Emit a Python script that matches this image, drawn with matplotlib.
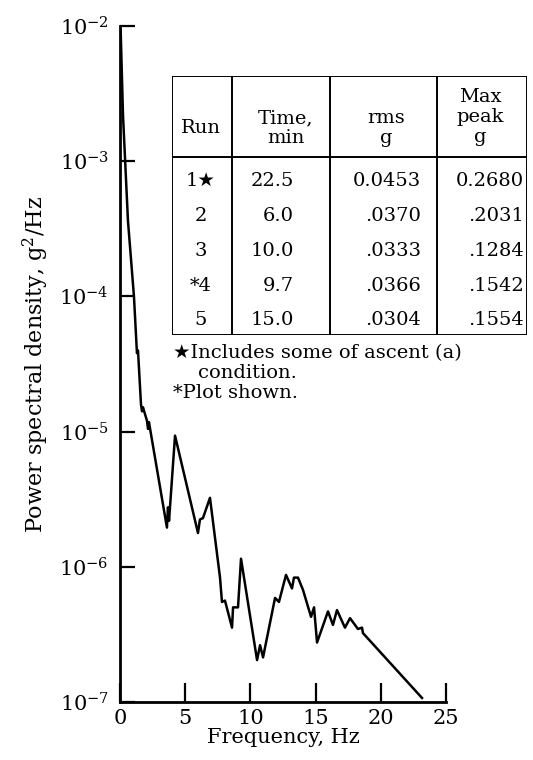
import matplotlib
matplotlib.use('Agg')
import matplotlib.pyplot as plt
import numpy as np

plt.rcParams['font.family'] = ['DejaVu Serif', 'DejaVu Sans']
plt.rcParams['mathtext.fontset'] = 'dejavuserif'

# spectrum of run 4 (Hz, g^2/Hz)
freq = [0.05, 0.23, 0.61, 1.07, 1.30, 1.38, 1.61, 1.69, 1.76, 2.07, 2.15, 2.22, 2.45,
        3.60, 3.68, 3.76, 4.22, 5.98, 6.13, 6.36, 6.90, 7.67, 7.82, 8.05, 8.59, 8.67,
        9.05, 9.28, 10.51, 10.74, 10.97, 11.89, 12.19, 12.73, 13.19, 13.34, 13.65,
        14.03, 14.34, 14.65, 14.88, 15.11, 15.95, 16.33, 16.64, 17.25, 17.64, 18.25,
        18.56, 18.63, 23.16]
log_psd = [-2.03, -2.66, -3.44, -4.00, -4.42, -4.40, -4.80, -4.85, -4.82, -4.92, -4.98,
           -4.93, -5.06, -5.71, -5.56, -5.66, -5.03, -5.75, -5.65, -5.64, -5.49, -6.08,
           -6.26, -6.25, -6.45, -6.30, -6.30, -5.94, -6.69, -6.58, -6.67, -6.23, -6.26,
           -6.06, -6.16, -6.08, -6.08, -6.17, -6.27, -6.37, -6.30, -6.56, -6.33, -6.43,
           -6.32, -6.45, -6.38, -6.46, -6.45, -6.49, -6.97]
psd = [10 ** v for v in log_psd]

# table
col_heads = ['Run', 'Time,\nmin', 'rms\ng', 'Max\npeak\ng']
runs = ['1\u2605', '2', '3', '*4', '5']
times = ['22.5', '6.0', '10.0', '9.7', '15.0']
rms = ['0.0453', '.0370', '.0333', '.0366', '.0304']
max_peak = ['0.2680', '.2031', '.1284', '.1542', '.1554']
notes = ['\u2605Includes some of ascent (a)', '    condition.', '*Plot shown.']

W, H = 533, 760
fig = plt.figure(figsize=(W / 100, H / 100), dpi=100)
ax = fig.add_axes([120 / W, 1 - 702 / H, 326 / W, 676 / H])

ax.plot(freq, psd, color='black', lw=1.8)
ax.set_yscale('log')
ax.set_xlim(0, 25)
ax.set_ylim(1e-7, 1e-2)
ax.set_xticks([0, 5, 10, 15, 20, 25])
ax.set_yticks([1e-7, 1e-6, 1e-5, 1e-4, 1e-3, 1e-2])
ax.set_yticklabels(['$10^{-7}$', '$10^{-6}$', '$10^{-5}$', '$10^{-4}$', '$10^{-3}$', '$10^{-2}$'])
ax.yaxis.set_minor_locator(matplotlib.ticker.NullLocator())
ax.tick_params(axis='x', direction='in', length=14, width=1.6, labelsize=15, pad=5)
ax.tick_params(axis='y', direction='in', length=11, width=1.6, labelsize=15, pad=8)
for s in ['top', 'right']:
    ax.spines[s].set_visible(False)
for s in ['left', 'bottom']:
    ax.spines[s].set_linewidth(2)
ax.set_xlabel('Frequency, Hz', fontsize=15, labelpad=0)
ax.set_ylabel('Power spectral density, g$^2$/Hz', fontsize=16, labelpad=6)
ax.patch.set_alpha(0)

# table drawn in pixel coords
tx0, tx1, ty0, ty1 = 172, 527, 76, 335
axt = fig.add_axes([tx0 / W, 1 - ty1 / H, (tx1 - tx0) / W, (ty1 - ty0) / H])
axt.set_xlim(tx0, tx1)
axt.set_ylim(ty1, ty0)
axt.axis('off')
lk = dict(color='black', lw=1.4, solid_capstyle='butt')
axt.plot([tx0, tx1, tx1, tx0, tx0], [ty0, ty0, ty1, ty1, ty0], **lk)
for cx in [232, 330, 437]:
    axt.plot([cx, cx], [ty0, ty1], **lk)
axt.plot([tx0, tx1], [157, 157], **lk)
for hx, hy, txt in zip([201, 286, 386, 480], [128, 128, 128, 117], col_heads):
    axt.text(hx, hy, txt, ha='center', va='center', fontsize=14, linespacing=1.15)
row_y = [181, 216, 251, 286, 320]
for i, y in enumerate(row_y):
    axt.text(201, y, runs[i], ha='center', va='center', fontsize=14)
    axt.text(294, y, times[i], ha='right', va='center', fontsize=14)
    axt.text(421, y, rms[i], ha='right', va='center', fontsize=14)
    axt.text(524, y, max_peak[i], ha='right', va='center', fontsize=14)

for i, t in enumerate(notes):
    fig.text(173 / W, 1 - (353 + 20 * i) / H, t, ha='left', va='center', fontsize=14)

fig.savefig('out.png', dpi=100)
